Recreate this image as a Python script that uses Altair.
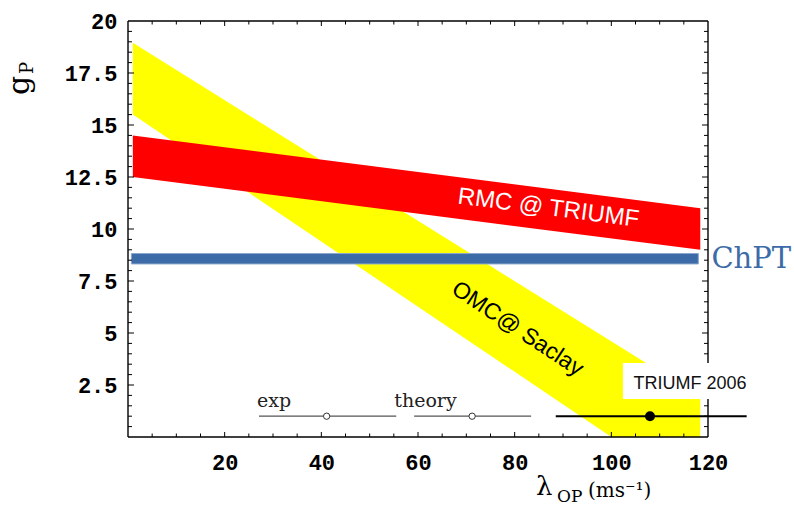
import altair as alt
import pandas as pd

# ---------------- data ----------------
X_DOMAIN = [0, 120]
Y_DOMAIN = [0, 20]

band_x = [1.0, 118.4]
omc_hi = [18.95, 1.93]      # OMC @ Saclay band, upper edge
omc_lo = [15.5, -2.88]      # OMC @ Saclay band, lower edge
rmc_hi = [14.5, 11.0]       # RMC @ TRIUMF band, upper edge
rmc_lo = [12.5, 9.0]        # RMC @ TRIUMF band, lower edge
chpt_x = [0.7, 118.0]
chpt_lo = 8.32
chpt_hi = 8.82

meas_names = ["exp", "theory", "TRIUMF 2006"]
meas_val = [41.1, 71.2, 108.0]
meas_lo = [27.1, 59.2, 88.5]
meas_hi = [55.5, 83.4, 128.0]
meas_y = [1.0, 1.0, 1.0]

x_labels = [20, 40, 60, 80, 100, 120]
y_labels = [2.5, 5, 7.5, 10, 12.5, 15, 17.5, 20]
x_major_inner = [20, 40, 60, 80, 100]
y_major_inner = [2.5, 5, 7.5, 10, 12.5, 15, 17.5]
x_minor = [5, 10, 15, 25, 30, 35, 45, 50, 55, 65, 70, 75, 85, 90, 95, 105, 110, 115]
y_minor = [0.5 * i for i in range(1, 40) if i % 5 != 0]

W, H = 580, 416

xscale = alt.Scale(domain=X_DOMAIN, nice=False, zero=False)
yscale = alt.Scale(domain=Y_DOMAIN, nice=False, zero=False)
label_font = dict(labelFont="Liberation Mono", labelFontWeight="bold", labelFontSize=22,
                  labelColor="black", ticks=False, domain=False, grid=False, labelOverlap=False)
xaxis = alt.Axis(values=x_labels, labelPadding=15, labelFlush=False, **label_font)
yaxis = alt.Axis(values=y_labels, labelPadding=11, labelExpr="toString(datum.value)", **label_font)


def X(field):
    return alt.X(field, type="quantitative", scale=xscale, axis=xaxis, title=None)


def Y(field):
    return alt.Y(field, type="quantitative", scale=yscale, axis=yaxis, title=None)


omc = pd.DataFrame({"x": band_x, "hi": omc_hi, "lo": omc_lo})
rmc = pd.DataFrame({"x": band_x, "hi": rmc_hi, "lo": rmc_lo})
chpt = pd.DataFrame({"x": [chpt_x[0]], "x2": [chpt_x[1]], "lo": [chpt_lo], "hi": [chpt_hi]})
meas = pd.DataFrame({"name": meas_names, "val": meas_val, "lo": meas_lo, "hi": meas_hi, "y": meas_y})

yellow = alt.Chart(omc).mark_area(color="#FFFF00", opacity=1, clip=True).encode(
    x=X("x"), y=Y("hi"), y2=alt.Y2("lo"))
red = alt.Chart(rmc).mark_area(color="#FF0000", opacity=1).encode(
    x=X("x"), y=Y("hi"), y2=alt.Y2("lo"))
blue = alt.Chart(chpt).mark_rect(color="#3D6BA7", stroke="#8AA6CD", strokeWidth=1).encode(
    x=X("x"), x2=alt.X2("x2"), y=Y("lo"), y2=alt.Y2("hi"))

frame_df = pd.DataFrame({
    "x": [X_DOMAIN[0], X_DOMAIN[0], X_DOMAIN[0], X_DOMAIN[1]],
    "x2": [X_DOMAIN[1], X_DOMAIN[1], X_DOMAIN[0], X_DOMAIN[1]],
    "y": [Y_DOMAIN[0], Y_DOMAIN[1], Y_DOMAIN[0], Y_DOMAIN[0]],
    "y2": [Y_DOMAIN[0], Y_DOMAIN[1], Y_DOMAIN[1], Y_DOMAIN[1]],
})
frame = alt.Chart(frame_df).mark_rule(color="black", strokeWidth=1.4).encode(
    x=X("x"), x2=alt.X2("x2"), y=Y("y"), y2=alt.Y2("y2"))


def xticks(vals, length):
    d = pd.DataFrame({"t": vals})
    b = alt.Chart(d).mark_rule(color="black", strokeWidth=1).encode(
        x=X("t"), y=alt.value(H), y2=alt.value(H - length))
    t = alt.Chart(d).mark_rule(color="black", strokeWidth=1).encode(
        x=X("t"), y=alt.value(0), y2=alt.value(length))
    return [b, t]


def yticks(vals, length):
    d = pd.DataFrame({"t": vals})
    l = alt.Chart(d).mark_rule(color="black", strokeWidth=1).encode(
        y=Y("t"), x=alt.value(0), x2=alt.value(length))
    r = alt.Chart(d).mark_rule(color="black", strokeWidth=1).encode(
        y=Y("t"), x=alt.value(W), x2=alt.value(W - length))
    return [l, r]


ticks = xticks(x_major_inner, 5) + xticks(x_minor, 3.5) + yticks(y_major_inner, 6) + yticks(y_minor, 4)

old = meas.iloc[:2]
new = meas.iloc[2:]
old_rules = alt.Chart(old).mark_rule(color="#555555", strokeWidth=1.2).encode(
    x=X("lo"), x2=alt.X2("hi"), y=Y("y"))
old_pts = alt.Chart(old).mark_point(shape="circle", filled=True, fill="white", stroke="#333333",
                                    strokeWidth=1, size=40, opacity=1).encode(x=X("val"), y=Y("y"))

box = alt.Chart(pd.DataFrame({"x": [102.4], "x2": [131.0], "y": [1.83], "y2": [3.56]})).mark_rect(
    color="white").encode(x=X("x"), x2=alt.X2("x2"), y=Y("y"), y2=alt.Y2("y2"))

new_rule = alt.Chart(new).mark_rule(color="black", strokeWidth=2).encode(
    x=X("lo"), x2=alt.X2("hi"), y=Y("y"))
new_pt = alt.Chart(new).mark_circle(color="black", size=100, opacity=1).encode(x=X("val"), y=Y("y"))

ann = pd.DataFrame({
    "text": ["exp", "theory"],
    "x": [26.7, 55.1],
    "y": [1.46, 1.46],
})
ann_txt = alt.Chart(ann).mark_text(font="DejaVu Serif", fontSize=19, color="#222222",
                                   align="left", baseline="alphabetic").encode(
    x=X("x"), y=Y("y"), text="text:N")

triumf_txt = alt.Chart(pd.DataFrame({"text": ["TRIUMF 2006"], "x": [104.6], "y": [2.29]})).mark_text(
    font="Liberation Sans", fontSize=18, color="#111111", align="left", baseline="alphabetic").encode(
    x=X("x"), y=Y("y"), text="text:N")

rmc_txt = alt.Chart(pd.DataFrame({"text": ["RMC @ TRIUMF"], "x": [87.0], "y": [11.0]})).mark_text(
    font="Liberation Sans", fontSize=24, color="white", angle=7.4, align="center", baseline="middle").encode(
    x=X("x"), y=Y("y"), text="text:N")

omc_txt = alt.Chart(pd.DataFrame({"text": ["OMC@ Saclay"], "x": [80.6], "y": [5.2]})).mark_text(
    font="Liberation Sans", fontSize=23, color="black", angle=33.5, align="center", baseline="middle").encode(
    x=X("x"), y=Y("y"), text="text:N")

chpt_txt = alt.Chart(pd.DataFrame({"text": ["ChPT"], "x": [120.7], "y": [8.11]})).mark_text(
    font="DejaVu Serif", fontSize=29, color="#3D6BA7", align="left", baseline="alphabetic").encode(
    x=X("x"), y=Y("y"), text="text:N")


def title_piece(txt, px, py, size, angle=0):
    kw = dict(font="DejaVu Serif", fontSize=size, color="black", align="left", baseline="alphabetic")
    if angle:
        kw["angle"] = angle
    return alt.Chart(pd.DataFrame({"t": [txt]})).mark_text(**kw).encode(
        text="t:N", x=alt.value(px), y=alt.value(py))


titles = [
    title_piece("g", -99, 74, 30, 270),
    title_piece("P", -95, 53, 18, 270),
    title_piece("λ", 408, 474, 26),
    title_piece("OP", 429, 481, 17),
    title_piece("(ms⁻¹)", 460, 476, 20),
]

chart = alt.layer(
    yellow, red, blue, frame, *ticks, old_rules, old_pts, box, new_rule, new_pt,
    ann_txt, triumf_txt, rmc_txt, omc_txt, chpt_txt, *titles
).properties(
    width=W, height=H,
    autosize=alt.AutoSizeParams(type="none"),
    padding={"left": 128, "top": 21, "right": 86, "bottom": 76},
    background="white",
).configure_view(stroke=None)

chart.save("out.html", embed_options={"renderer": "svg", "actions": False})
